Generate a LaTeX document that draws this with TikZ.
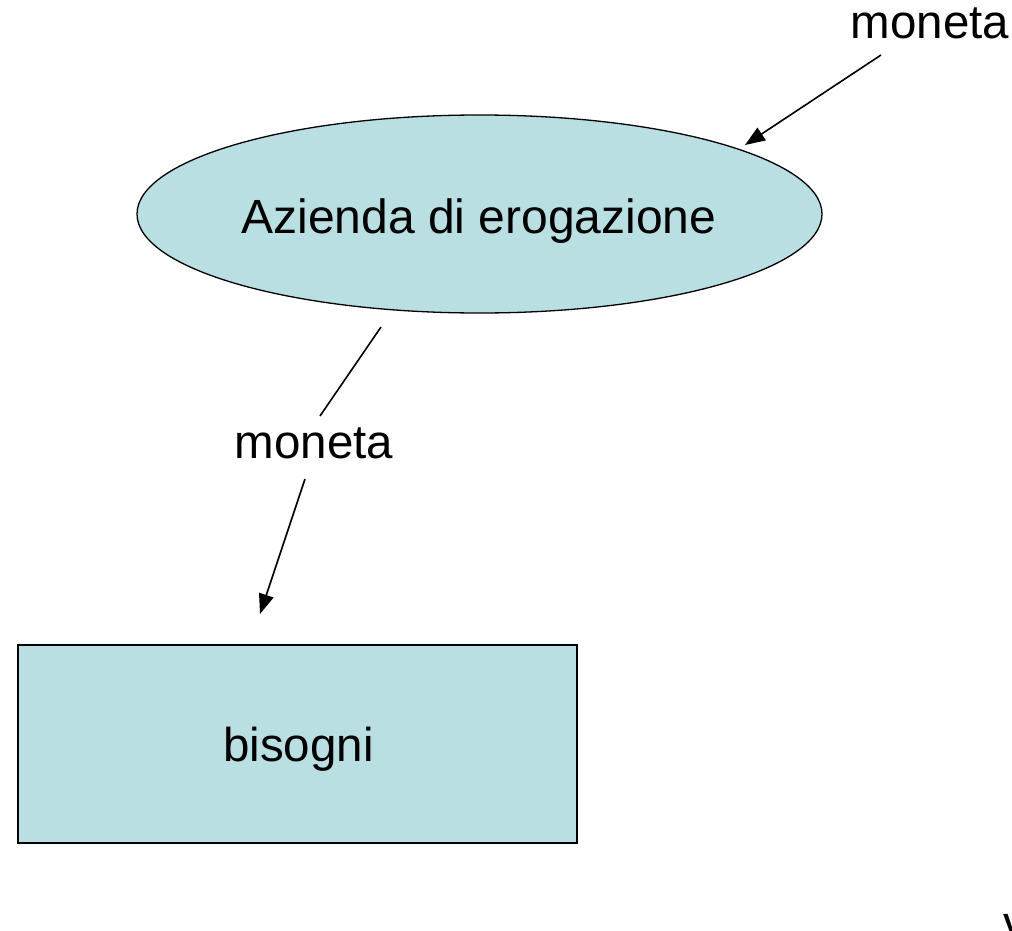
\documentclass[tikz,border=0pt]{standalone}
\usepackage{fontspec}
\setmainfont{Liberation Sans}
\usetikzlibrary{shapes.geometric,arrows.meta}
\definecolor{boxfill}{RGB}{185,223,227}
\begin{document}
\begin{tikzpicture}[x=1pt,y=-1pt,
  lbl/.style={font=\fontsize{47.5}{56}\selectfont, inner sep=0pt},
  conn/.style={line width=1.6pt},
  arr/.style={conn, -{Triangle[length=20pt,width=15pt]}}]
\useasboundingbox (0,0) rectangle (1012,931);
\node[ellipse, draw, line width=1.3pt, fill=boxfill, minimum width=685pt, minimum height=198pt, inner sep=0pt] (az) at (479.5,214) {};
\node[lbl, font=\fontsize{48}{56}\selectfont, anchor=base] (azt) at (479,233) {Azienda di erogazione};
\node[draw, line width=1.3pt, fill=boxfill, minimum width=559pt, minimum height=198pt] (bis) at (297.5,744) {};
\node[lbl, anchor=base] (bist) at (298.5,761) {bisogni};
\node[lbl, anchor=base] (m1) at (930,39) {moneta};
\node[lbl, anchor=base] (m2) at (314,458) {moneta};
\coordinate (t1) at (881,55);
\coordinate (h1) at (745,145);
\coordinate (s2) at (381,327);
\coordinate (e2) at (320,416);
\coordinate (s3) at (305,479);
\coordinate (h3) at (260,614);
\draw[arr] (t1) -- (h1);
\draw[conn] (s2) -- (e2);
\draw[arr] (s3) -- (h3);
\node[lbl, anchor=base west] (v) at (1003,939) {v};
\end{tikzpicture}
\end{document}
